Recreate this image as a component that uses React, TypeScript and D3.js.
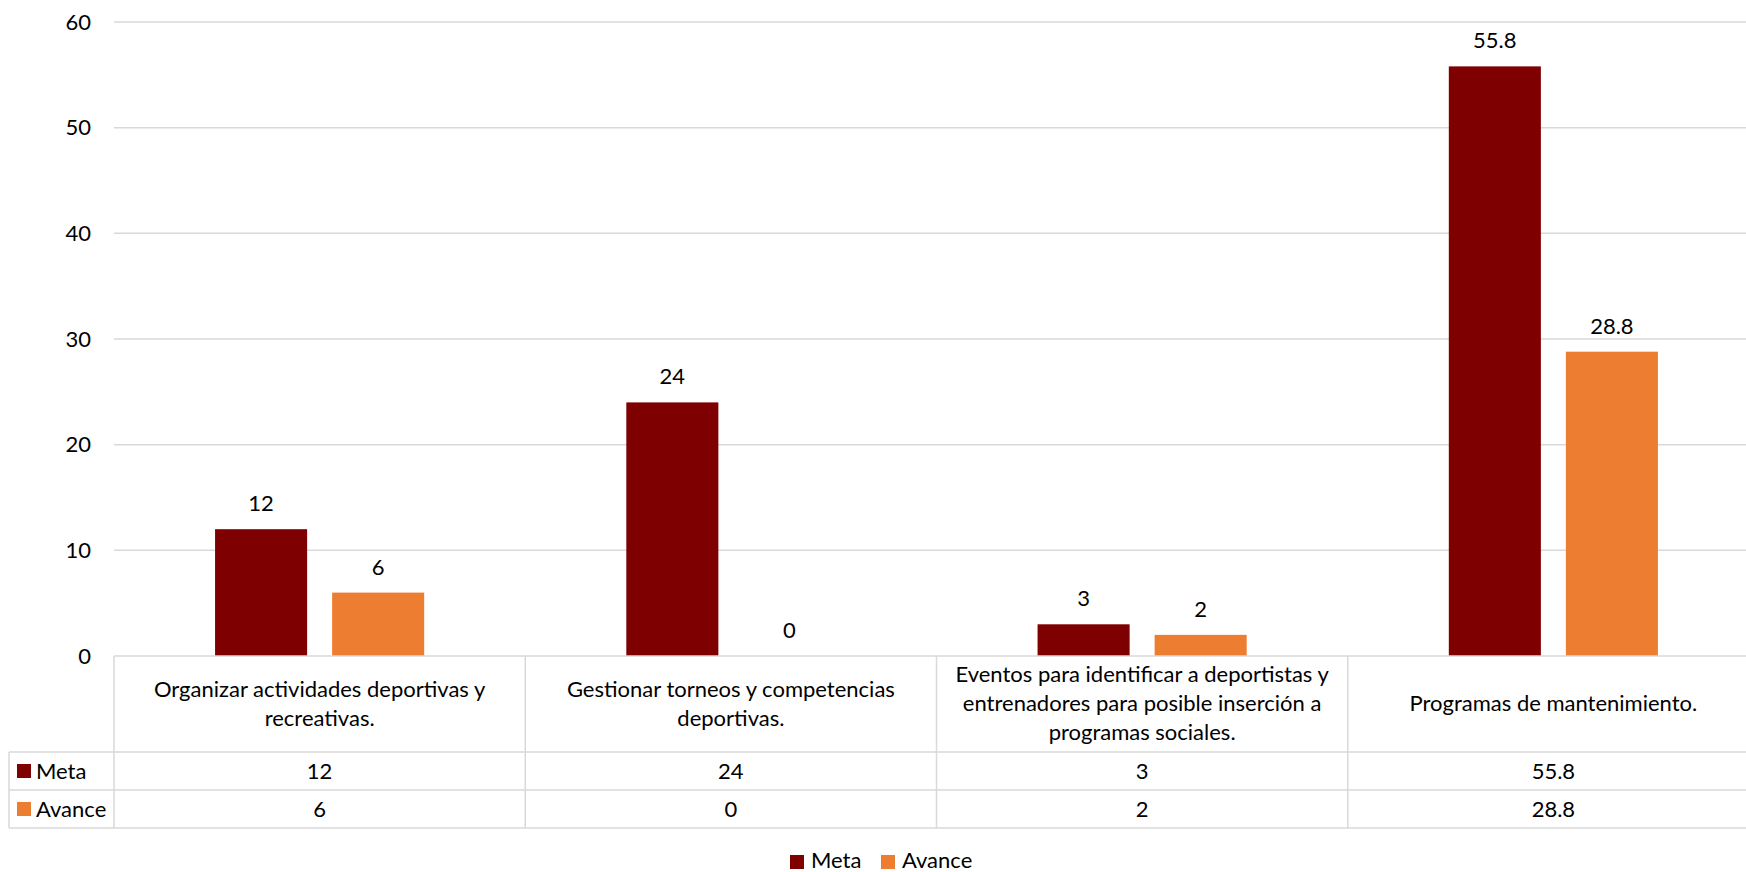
import React from "react";
import * as d3 from "d3";

const categories: string[][] = [
  ["Organizar actividades deportivas y", "recreativas."],
  ["Gestionar torneos y competencias", "deportivas."],
  ["Eventos para identificar a deportistas y", "entrenadores para posible inserción a", "programas sociales."],
  ["Programas de mantenimiento."],
];
const seriesNames = ["Meta", "Avance"];
const meta = [12, 24, 3, 55.8];
const avance = [6, 0, 2, 28.8];
const yTicks = [0, 10, 20, 30, 40, 50, 60];
const colors = ["#7F0000", "#ED7D31"];

const W = 1746;
const H = 872;
const FONT = "Lato, 'Open Sans', sans-serif";
const FS = 22;

export default function App() {
  const left = 114;
  const right = 1759;
  const top = 22;
  const bottom = 656;
  const catRowBottom = 752;
  const metaRowBottom = 790;
  const avRowBottom = 828;
  const legendLeft = 9;

  const values = [meta, avance];
  const idx = categories.map((_, i) => i);
  const x0 = d3.scaleBand<number>().domain(idx).range([left, right]).padding(0);
  const x1 = d3
    .scaleBand<string>()
    .domain(seriesNames)
    .range([0, x0.bandwidth()])
    .paddingInner(25 / 117)
    .paddingOuter(101 / 117);
  const y = d3.scaleLinear().domain([0, 60]).range([bottom, top]);
  const fmt = (v: number) => d3.format("")(v);

  const grid = "#D9D9D9";
  const lines: JSX.Element[] = [];
  lines.push(<line key="h0" x1={left} x2={right} y1={bottom} y2={bottom} stroke={grid} strokeWidth={1.5} />);
  [catRowBottom, metaRowBottom, avRowBottom].forEach((yy, i) =>
    lines.push(<line key={"h" + (i + 1)} x1={legendLeft} x2={right} y1={yy} y2={yy} stroke={grid} strokeWidth={1.5} />)
  );
  idx.forEach((i) => {
    const xx = x0(i)!;
    lines.push(<line key={"v" + i} x1={xx} x2={xx} y1={bottom} y2={avRowBottom} stroke={grid} strokeWidth={1.5} />);
  });
  lines.push(<line key="vr" x1={right} x2={right} y1={bottom} y2={avRowBottom} stroke={grid} strokeWidth={1.5} />);
  lines.push(<line key="vl" x1={legendLeft} x2={legendLeft} y1={catRowBottom} y2={avRowBottom} stroke={grid} strokeWidth={1.5} />);

  return (
    <svg width={W} height={H} style={{ position: "absolute", left: 0, top: 0, background: "#fff" }} fontFamily={FONT}>
      <rect x={0} y={0} width={W} height={H} fill="#fff" />
      {yTicks.filter((t) => t > 0).map((t) => (
        <line key={"g" + t} x1={left} x2={right} y1={y(t)} y2={y(t)} stroke={grid} strokeWidth={1.5} />
      ))}
      {yTicks.map((t) => (
        <text key={"t" + t} x={91} y={y(t) + 7.5} textAnchor="end" fontSize={FS} fill="#000">
          {t}
        </text>
      ))}
      {idx.map((i) =>
        seriesNames.map((s, si) => {
          const v = values[si][i];
          const bx = x0(i)! + x1(s)!;
          return (
            <g key={"b" + i + s}>
              {v > 0 && (
                <rect x={bx} y={y(v)} width={x1.bandwidth()} height={bottom - y(v)} fill={colors[si]} />
              )}
              <text x={bx + x1.bandwidth() / 2} y={y(v) - 18} textAnchor="middle" fontSize={FS} fill="#000">
                {fmt(v)}
              </text>
            </g>
          );
        })
      )}
      {lines}
      {idx.map((i) => {
        const cx = x0(i)! + x0.bandwidth() / 2;
        const lh = 29;
        const n = categories[i].length;
        const mid = (bottom + catRowBottom) / 2 + 7;
        return (
          <text key={"c" + i} textAnchor="middle" fontSize={FS} fill="#000">
            {categories[i].map((ln, k) => (
              <tspan key={k} x={cx} y={mid + (k - (n - 1) / 2) * lh}>
                {ln}
              </tspan>
            ))}
          </text>
        );
      })}
      {seriesNames.map((s, si) => {
        const rowTop = si === 0 ? catRowBottom : metaRowBottom;
        const rowBot = si === 0 ? metaRowBottom : avRowBottom;
        const cy = (rowTop + rowBot) / 2;
        return (
          <g key={"r" + s}>
            <rect x={17} y={cy - 7} width={14} height={14} fill={colors[si]} />
            <text x={36} y={cy + 7.5} fontSize={FS} fill="#000">
              {s}
            </text>
            {idx.map((i) => (
              <text key={i} x={x0(i)! + x0.bandwidth() / 2} y={cy + 7.5} textAnchor="middle" fontSize={FS} fill="#000">
                {fmt(values[si][i])}
              </text>
            ))}
          </g>
        );
      })}
      {seriesNames.map((s, si) => {
        const lx = si === 0 ? 790 : 881;
        return (
          <g key={"l" + s}>
            <rect x={lx} y={855} width={14} height={14} fill={colors[si]} />
            <text x={lx + 21} y={868} fontSize={FS} fill="#000">
              {s}
            </text>
          </g>
        );
      })}
    </svg>
  );
}
